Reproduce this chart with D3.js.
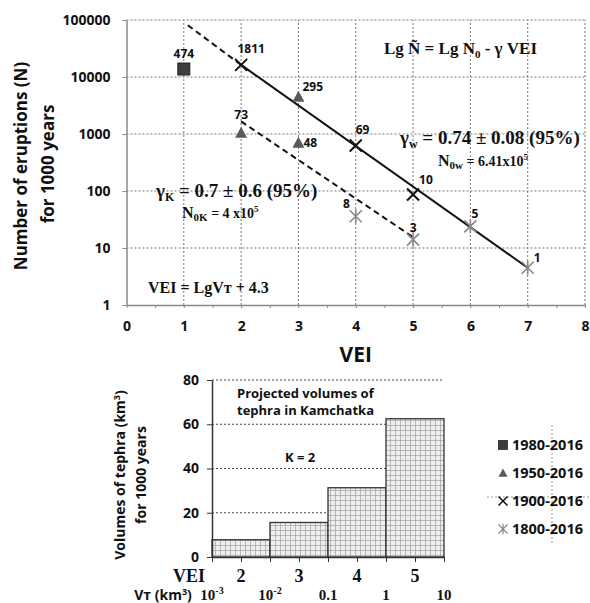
<!DOCTYPE html>
<html>
<head>
<meta charset="utf-8">
<script src="https://cdn.jsdelivr.net/npm/d3@7"></script>
<style>
body { margin: 0; background: #fff; }
svg text { font-family: "Open Sans", "DejaVu Sans", sans-serif; font-weight: 700; fill: #111; }
svg text.serif { font-family: "Liberation Serif", "Times New Roman", serif; }
</style>
</head>
<body>
<svg id="chart" width="590" height="603"></svg>
<script>
// eruptions per 1000 years, by catalogue period
var vei1980 = [1];
var n1980 = [13800];
var lab1980 = ["474"];

var vei1950 = [2, 3, 3];
var n1950 = [1050, 4500, 700];
var lab1950 = ["73", "295", "48"];

var vei1900 = [2, 4, 5];
var n1900 = [16300, 630, 87];
var lab1900 = ["1811", "69", "10"];

var vei1800 = [4, 5, 6, 7];
var n1800 = [36, 14, 24, 4.5];
var lab1800 = ["8", "3", "5", "1"];

// fitted lines (VEI, N)
var fitWdash = [[1.07, 81000], [2, 16300]];
var fitWsolid = [[2, 16300], [7, 4.5]];
var fitK = [[2, 1660], [5, 15.5]];

var periods = ["1980-2016", "1950-2016", "1900-2016", "1800-2016"];
var xTicks = [0, 1, 2, 3, 4, 5, 6, 7, 8];
var yTicks = [1, 10, 100, 1000, 10000, 100000];

// lower chart: projected tephra volumes
var veiClasses = ["2", "3", "4", "5"];
var tephraVol = [7.8, 15.6, 31.3, 62.5];
var volTicks = [0, 20, 40, 60, 80];
var vtBase = ["10", "10", "0.1", "1", "10"];
var vtExp = ["-3", "-2", "", "", ""];

var svg = d3.select("#chart");

var x = d3.scaleLinear().domain([0, 8]).range([126.5, 585]);
var y = d3.scaleLog().domain([1, 100000]).range([305, 20]);

// grid
svg.append("g").selectAll("line")
    .data(xTicks.slice(1))
    .enter().append("line")
    .attr("x1", function(d) { return x(d); })
    .attr("x2", function(d) { return x(d); })
    .attr("y1", y(1)).attr("y2", y(100000))
    .attr("stroke", "#777").attr("stroke-width", 1).attr("stroke-dasharray", "2,2");
svg.append("g").selectAll("line")
    .data(yTicks.slice(1))
    .enter().append("line")
    .attr("x1", x(0)).attr("x2", x(8))
    .attr("y1", function(d) { return y(d); })
    .attr("y2", function(d) { return y(d); })
    .attr("stroke", "#777").attr("stroke-width", 1).attr("stroke-dasharray", "2,2");

// axes
var yAxis = svg.append("g")
    .attr("transform", "translate(" + x(0) + ",0)")
    .call(d3.axisLeft(y).tickValues(yTicks).tickFormat(d3.format("d")).tickSize(4).tickSizeOuter(0).tickPadding(12));
var xAxis = svg.append("g")
    .attr("transform", "translate(0," + y(1) + ")")
    .call(d3.axisBottom(x).tickValues(d3.range(0, 8.01, 0.5))
        .tickFormat(function(d) { return d % 1 === 0 ? d : ""; })
        .tickSize(3).tickSizeOuter(0).tickPadding(13));
[yAxis, xAxis].forEach(function(g) {
    g.select(".domain").attr("stroke", "#888").attr("stroke-width", 1.5);
    g.selectAll(".tick line").attr("stroke", "#888");
    g.selectAll(".tick text").attr("font-size", 14).attr("fill", "#111");
});

svg.append("text").attr("x", x(4)).attr("y", 362)
    .attr("text-anchor", "middle").attr("font-size", 21).text("VEI");
svg.append("text").attr("transform", "translate(27,166) rotate(-90)")
    .attr("text-anchor", "middle").attr("font-size", 17).text("Number of eruptions (N)");
svg.append("text").attr("transform", "translate(54,164) rotate(-90)")
    .attr("text-anchor", "middle").attr("font-size", 17).text("for 1000 years");

// fitted lines
var line = d3.line()
    .x(function(d) { return x(d[0]); })
    .y(function(d) { return y(d[1]); });
svg.append("path").attr("d", line(fitWdash)).attr("fill", "none")
    .attr("stroke", "#111").attr("stroke-width", 2).attr("stroke-dasharray", "6,4");
svg.append("path").attr("d", line(fitWsolid)).attr("fill", "none")
    .attr("stroke", "#111").attr("stroke-width", 2);
svg.append("path").attr("d", line(fitK)).attr("fill", "none")
    .attr("stroke", "#111").attr("stroke-width", 2).attr("stroke-dasharray", "6,4");

// markers
var drawMarker = function(g, kind) {
    if (kind === 0) {
        g.append("rect").attr("x", -6).attr("y", -6).attr("width", 12).attr("height", 12)
            .attr("fill", "#3d3d3d").attr("stroke", "#222");
    } else if (kind === 1) {
        g.append("path").attr("d", "M0,-6L6,5L-6,5Z").attr("fill", "#5a5a5a");
    } else if (kind === 2) {
        g.append("path").attr("d", "M-6,-6L6,6M-6,6L6,-6")
            .attr("stroke", "#111").attr("stroke-width", 2);
    } else {
        g.append("path").attr("d", "M-6,-6L6,6M-6,6L6,-6M0,-7L0,7")
            .attr("stroke", "#888").attr("stroke-width", 1.6);
    }
};

// label offsets (dx, dy, anchor)
var labelPos = {
    "474": [0, -11, "middle"], "1811": [10, -12, "middle"],
    "73": [0, -14, "middle"], "295": [4, -6, "start"], "48": [5, 4, "start"],
    "69": [0, -11, "start"], "10": [6, -10, "start"],
    "8": [-6, -8, "end"], "3": [0, -8, "middle"], "5": [1, -8, "start"], "1": [6, -6, "start"]
};

var series = [
    [vei1980, n1980, lab1980],
    [vei1950, n1950, lab1950],
    [vei1900, n1900, lab1900],
    [vei1800, n1800, lab1800]
];
series.forEach(function(s, k) {
    s[0].forEach(function(v, i) {
        var g = svg.append("g")
            .attr("transform", "translate(" + x(v) + "," + y(s[1][i]) + ")");
        drawMarker(g, k);
        var p = labelPos[s[2][i]];
        g.append("text").attr("x", p[0]).attr("y", p[1])
            .attr("text-anchor", p[2]).attr("font-size", 12).text(s[2][i]);
    });
});

// equations
var t1 = svg.append("text").attr("class", "serif").attr("x", 384).attr("y", 54).attr("font-size", 17);
t1.append("tspan").text("Lg Ñ = Lg N");
t1.append("tspan").attr("font-size", 11).attr("dy", 4).text("0");
t1.append("tspan").attr("dy", -4).text(" - γ VEI");

var t2 = svg.append("text").attr("class", "serif").attr("x", 400).attr("y", 144).attr("font-size", 19);
t2.append("tspan").text("γ");
t2.append("tspan").attr("font-size", 12).attr("dy", 4).text("w");
t2.append("tspan").attr("dy", -4).text(" = 0.74 ± 0.08 (95%)");

var t3 = svg.append("text").attr("class", "serif").attr("x", 438).attr("y", 166).attr("font-size", 16);
t3.append("tspan").text("N");
t3.append("tspan").attr("font-size", 11).attr("dy", 3).text("0w");
t3.append("tspan").attr("dy", -3).attr("font-size", 14).text(" = 6.41x10");
t3.append("tspan").attr("font-size", 9).attr("dy", -6).text("5");

var t4 = svg.append("text").attr("class", "serif").attr("x", 156).attr("y", 197).attr("font-size", 19);
t4.append("tspan").text("γ");
t4.append("tspan").attr("font-size", 12).attr("dy", 4).text("K");
t4.append("tspan").attr("dy", -4).text(" = 0.7 ± 0.6 (95%)");

var t5 = svg.append("text").attr("class", "serif").attr("x", 182).attr("y", 218).attr("font-size", 16);
t5.append("tspan").text("N");
t5.append("tspan").attr("font-size", 11).attr("dy", 3).text("0K");
t5.append("tspan").attr("dy", -3).attr("font-size", 14).text(" = 4 x10");
t5.append("tspan").attr("font-size", 9).attr("dy", -6).text("5");

svg.append("text").attr("class", "serif").attr("x", 148).attr("y", 293)
    .attr("font-size", 16).text("VEI = LgVт + 4.3");

// ---------- lower chart ----------
var defs = svg.append("defs");
var pat = defs.append("pattern").attr("id", "grid").attr("patternUnits", "userSpaceOnUse")
    .attr("width", 5).attr("height", 5);
pat.append("rect").attr("width", 5).attr("height", 5).attr("fill", "#eeeeee");
pat.append("path").attr("d", "M0,0.5H5M0.5,0V5").attr("stroke", "#a8a8a8").attr("stroke-width", 0.8);

var xb = d3.scaleBand().domain(veiClasses).range([212, 444]).padding(0);
var xe = d3.scaleLinear().domain([0, 4]).range([212, 444]);
var yb = d3.scaleLinear().domain([0, 80]).range([557, 380]);

svg.append("g").selectAll("line")
    .data(volTicks.slice(1))
    .enter().append("line")
    .attr("x1", 212).attr("x2", 444)
    .attr("y1", function(d) { return yb(d); })
    .attr("y2", function(d) { return yb(d); })
    .attr("stroke", "#444").attr("stroke-width", 1).attr("stroke-dasharray", "2,2");

svg.append("g").selectAll("rect")
    .data(tephraVol)
    .enter().append("rect")
    .attr("x", function(d, i) { return xb(veiClasses[i]); })
    .attr("width", xb.bandwidth())
    .attr("y", function(d) { return yb(d); })
    .attr("height", function(d) { return yb(0) - yb(d); })
    .attr("fill", "url(#grid)").attr("stroke", "#333").attr("stroke-width", 1.3);

var ybAxis = svg.append("g").attr("transform", "translate(212,0)")
    .call(d3.axisLeft(yb).tickValues(volTicks).tickSize(5).tickSizeOuter(0).tickPadding(8));
var xbAxis = svg.append("g").attr("transform", "translate(0,557)")
    .call(d3.axisBottom(xe).tickValues(d3.range(0, 4.01, 0.5)).tickFormat("").tickSize(5).tickSizeOuter(0));
[ybAxis, xbAxis].forEach(function(g) {
    g.select(".domain").attr("stroke", "#333").attr("stroke-width", 1.5);
    g.selectAll(".tick line").attr("stroke", "#333");
    g.selectAll(".tick text").attr("font-size", 14).attr("fill", "#111");
});

svg.append("text").attr("transform", "translate(125,475) rotate(-90)")
    .attr("text-anchor", "middle").attr("font-size", 14).html("Volumes of tephra (km<tspan dy='-5' font-size='9'>3</tspan><tspan dy='5'>)</tspan>");
svg.append("text").attr("transform", "translate(146,475) rotate(-90)")
    .attr("text-anchor", "middle").attr("font-size", 14).text("for 1000 years");

svg.append("text").attr("x", 237).attr("y", 398).attr("font-size", 13).text("Projected volumes of");
svg.append("text").attr("x", 237).attr("y", 415).attr("font-size", 13).text("tephra in Kamchatka");
svg.append("text").attr("x", 285).attr("y", 462).attr("font-size", 13).text("K = 2");

svg.append("text").attr("class", "serif").attr("x", 189).attr("y", 582)
    .attr("text-anchor", "middle").attr("font-size", 18).text("VEI");
svg.append("g").selectAll("text")
    .data(veiClasses)
    .enter().append("text")
    .attr("class", "serif")
    .attr("x", function(d) { return xb(d) + xb.bandwidth() / 2; })
    .attr("y", 582).attr("text-anchor", "middle").attr("font-size", 18)
    .text(function(d) { return d; });

var vt = svg.append("text").attr("x", 163).attr("y", 600).attr("text-anchor", "middle").attr("font-size", 14);
vt.append("tspan").text("Vт (km");
vt.append("tspan").attr("font-size", 9).attr("dy", -5).text("3");
vt.append("tspan").attr("dy", 5).text(")");

vtBase.forEach(function(b, i) {
    var t = svg.append("text").attr("class", "serif")
        .attr("x", xe(i)).attr("y", 600).attr("text-anchor", "middle").attr("font-size", 15);
    t.append("tspan").text(b);
    if (vtExp[i]) t.append("tspan").attr("font-size", 10).attr("dy", -6).text(vtExp[i]);
});

// legend
svg.append("line").attr("x1", 552).attr("x2", 552).attr("y1", 425).attr("y2", 543)
    .attr("stroke", "#999").attr("stroke-dasharray", "2,2");
svg.append("line").attr("x1", 487).attr("x2", 590).attr("y1", 497).attr("y2", 497)
    .attr("stroke", "#999").attr("stroke-dasharray", "2,2");
periods.forEach(function(p, k) {
    var cy = 445 + k * 28;
    var g = svg.append("g").attr("transform", "translate(503," + cy + ") scale(0.75)");
    drawMarker(g, k);
    svg.append("text").attr("x", 512).attr("y", cy).attr("dy", "0.35em")
        .attr("font-size", 14.5).text(p);
});
</script>
</body>
</html>
